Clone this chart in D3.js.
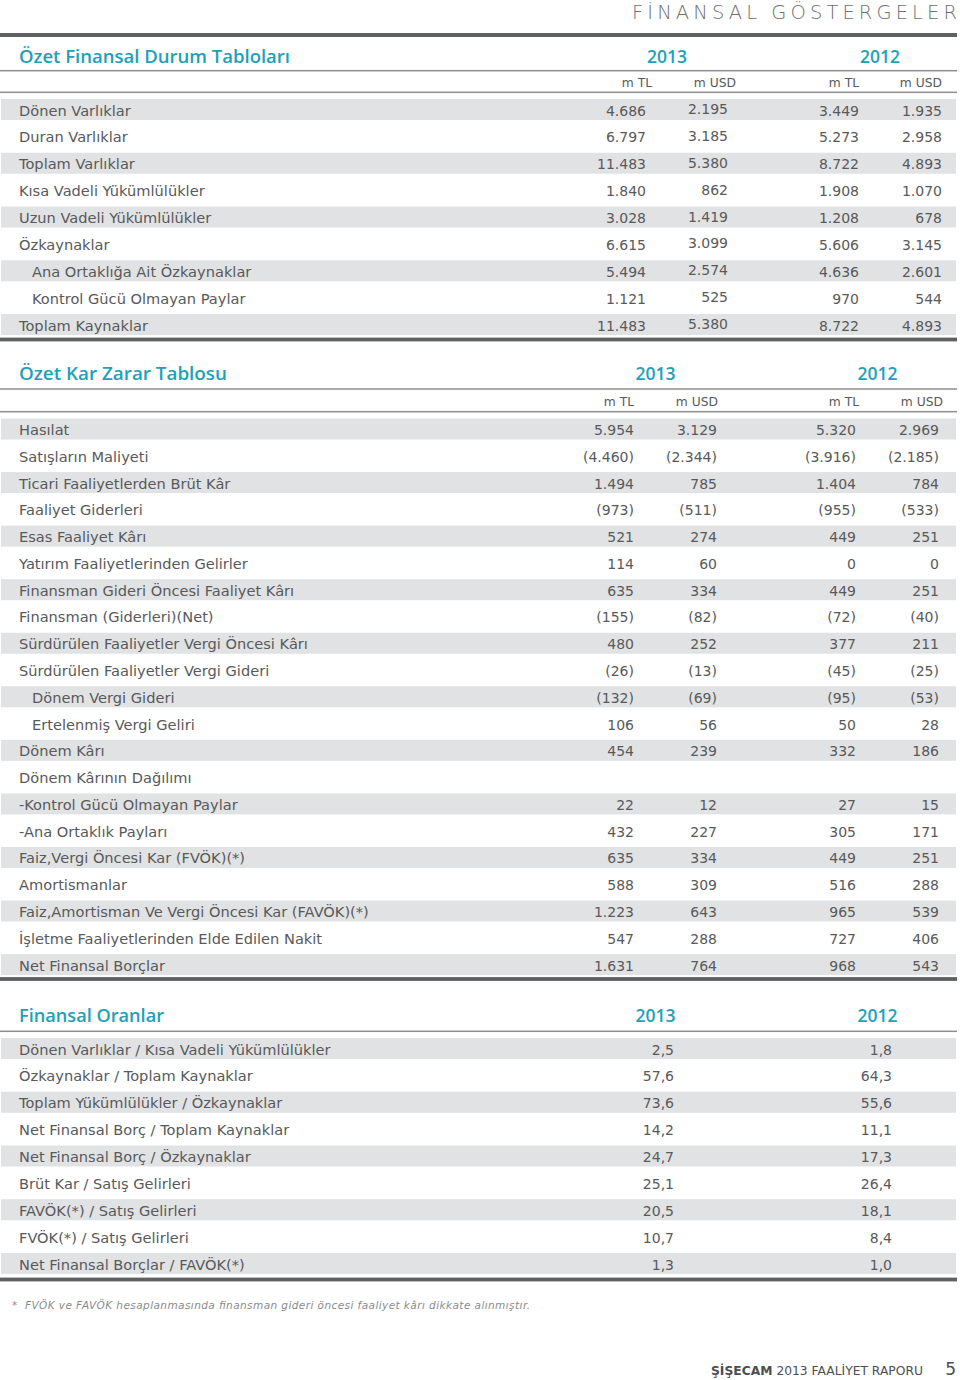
<!DOCTYPE html>
<html>
<head>
<meta charset="utf-8">
<script src="https://cdn.jsdelivr.net/npm/d3@7"></script>
<style>
  html, body { margin: 0; padding: 0; background: #ffffff; }
  svg { display: block; }
</style>
</head>
<body>
<svg id="chart" width="960" height="1380"></svg>
<script>
// ---------------- DATA ----------------
const pageTitle = "FİNANSAL GÖSTERGELER";
const years = ["2013", "2012"];
const unitLabels = ["m TL", "m USD", "m TL", "m USD"];

// Section 1: Özet Finansal Durum Tabloları
const balanceTitle = "Özet Finansal Durum Tabloları";
const balanceLabels = [
  "Dönen Varlıklar", "Duran Varlıklar", "Toplam Varlıklar",
  "Kısa Vadeli Yükümlülükler", "Uzun Vadeli Yükümlülükler", "Özkaynaklar",
  "Ana Ortaklığa Ait Özkaynaklar", "Kontrol Gücü Olmayan Paylar", "Toplam Kaynaklar"
];
const balanceIndent = [0, 0, 0, 0, 0, 0, 1, 1, 0];
const balanceTL2013  = [4686, 6797, 11483, 1840, 3028, 6615, 5494, 1121, 11483];
const balanceUSD2013 = [2195, 3185, 5380, 862, 1419, 3099, 2574, 525, 5380];
const balanceTL2012  = [3449, 5273, 8722, 1908, 1208, 5606, 4636, 970, 8722];
const balanceUSD2012 = [1935, 2958, 4893, 1070, 678, 3145, 2601, 544, 4893];

// Section 2: Özet Kar Zarar Tablosu
const incomeTitle = "Özet Kar Zarar Tablosu";
const incomeLabels = [
  "Hasılat", "Satışların Maliyeti", "Ticari Faaliyetlerden Brüt Kâr",
  "Faaliyet Giderleri", "Esas Faaliyet Kârı", "Yatırım Faaliyetlerinden Gelirler",
  "Finansman Gideri Öncesi Faaliyet Kârı", "Finansman (Giderleri)(Net)",
  "Sürdürülen Faaliyetler Vergi Öncesi Kârı", "Sürdürülen Faaliyetler Vergi Gideri",
  "Dönem Vergi Gideri", "Ertelenmiş Vergi Geliri", "Dönem Kârı",
  "Dönem Kârının Dağılımı", "-Kontrol Gücü Olmayan Paylar", "-Ana Ortaklık Payları",
  "Faiz,Vergi Öncesi Kar (FVÖK)(*)", "Amortismanlar",
  "Faiz,Amortisman Ve Vergi Öncesi Kar (FAVÖK)(*)",
  "İşletme Faaliyetlerinden Elde Edilen Nakit", "Net Finansal Borçlar"
];
const incomeIndent = [0,0,0,0,0,0,0,0,0,0,1,1,0,0,0,0,0,0,0,0,0];
const incomeTL2013  = [5954, -4460, 1494, -973, 521, 114, 635, -155, 480, -26, -132, 106, 454, null, 22, 432, 635, 588, 1223, 547, 1631];
const incomeUSD2013 = [3129, -2344, 785, -511, 274, 60, 334, -82, 252, -13, -69, 56, 239, null, 12, 227, 334, 309, 643, 288, 764];
const incomeTL2012  = [5320, -3916, 1404, -955, 449, 0, 449, -72, 377, -45, -95, 50, 332, null, 27, 305, 449, 516, 965, 727, 968];
const incomeUSD2012 = [2969, -2185, 784, -533, 251, 0, 251, -40, 211, -25, -53, 28, 186, null, 15, 171, 251, 288, 539, 406, 543];

// Section 3: Finansal Oranlar
const ratioTitle = "Finansal Oranlar";
const ratioLabels = [
  "Dönen Varlıklar / Kısa Vadeli Yükümlülükler", "Özkaynaklar / Toplam Kaynaklar",
  "Toplam Yükümlülükler / Özkaynaklar", "Net Finansal Borç / Toplam Kaynaklar",
  "Net Finansal Borç / Özkaynaklar", "Brüt Kar / Satış Gelirleri",
  "FAVÖK(*) / Satış Gelirleri", "FVÖK(*) / Satış Gelirleri",
  "Net Finansal Borçlar / FAVÖK(*)"
];
const ratio2013 = [2.5, 57.6, 73.6, 14.2, 24.7, 25.1, 20.5, 10.7, 1.3];
const ratio2012 = [1.8, 64.3, 55.6, 11.1, 17.3, 26.4, 18.1, 8.4, 1.0];

const footnote = "FVÖK ve FAVÖK hesaplanmasında finansman gideri öncesi faaliyet kârı dikkate alınmıştır.";
const footerBrand = "ŞİŞECAM";
const footerText = " 2013 FAALİYET RAPORU";
const pageNumber = "5";

// ---------------- STYLE ----------------
const FONT = "'DejaVu Sans', sans-serif";
const TITLE_FONT = "'Open Sans', 'DejaVu Sans', sans-serif";
const TEAL = "#1da1b8";
const TEXT = "#58595b";
const SHADE = "#e1e2e3";
const THICK = "#5f6062";
const THIN = "#8e8f91";

const loc = d3.formatLocale({ decimal: ",", thousands: ".", grouping: [3], currency: ["", ""] });
const fInt = loc.format(",.0f");
const fDec = loc.format(",.1f");
const acct = f => v => v == null ? "" : (v < 0 ? "(" + f(-v) + ")" : f(v));

const svg = d3.select("#chart");
svg.append("rect").attr("width", 960).attr("height", 1380).attr("fill", "#fff");

function hline(y, w, color) {
  svg.append("rect").attr("x", 0).attr("y", y - w / 2).attr("width", 957).attr("height", w).attr("fill", color);
}

// Page title
svg.append("text")
  .attr("x", 632).attr("y", 19)
  .attr("font-family", FONT).attr("font-size", 19.5).attr("font-weight", 200)
  .attr("fill", "#6f7072")
  .attr("textLength", 325).attr("lengthAdjust", "spacing")
  .text(pageTitle);
hline(35, 4, THICK);

function drawSection(cfg) {
  const n = cfg.labels.length;
  const pad = (cfg.step - 21) / cfg.step;
  const y = d3.scaleBand()
    .domain(d3.range(n))
    .range([cfg.top - cfg.step * pad / 2, cfg.top - cfg.step * pad / 2 + n * cfg.step])
    .paddingInner(pad).paddingOuter(pad / 2);

  const x = d3.scaleOrdinal().domain(cfg.cols.map(c => c.key)).range(cfg.cols.map(c => c.x));

  // title
  svg.append("text").attr("x", 19).attr("y", cfg.titleY)
    .attr("font-family", TITLE_FONT).attr("font-size", 18.5).attr("font-weight", 600)
    .attr("fill", TEAL).attr("textLength", cfg.titleLen).attr("lengthAdjust", "spacingAndGlyphs")
    .text(cfg.title);
  svg.selectAll(null).data(years).join("text")
    .attr("x", (d, i) => cfg.yearX[i]).attr("y", cfg.titleY)
    .attr("text-anchor", "middle")
    .attr("font-family", TITLE_FONT).attr("font-size", 18.5).attr("font-weight", 600)
    .attr("fill", TEAL).attr("textLength", 40).attr("lengthAdjust", "spacingAndGlyphs")
    .text(d => d);
  cfg.lines.forEach(l => hline(l, 1.5, THIN));

  if (cfg.unitX) {
    svg.selectAll(null).data(unitLabels).join("text")
      .attr("x", (d, i) => cfg.unitX[i]).attr("y", cfg.unitY)
      .attr("text-anchor", "end")
      .attr("font-family", FONT).attr("font-size", 12.3).attr("fill", TEXT)
      .text(d => d);
  }

  const rows = svg.append("g");
  rows.selectAll("rect").data(d3.range(n).filter(i => i % 2 === 0)).join("rect")
    .attr("x", 1).attr("width", 955)
    .attr("y", i => y(i)).attr("height", y.bandwidth())
    .attr("fill", SHADE);

  rows.selectAll("text.lbl").data(cfg.labels).join("text")
    .attr("class", "lbl")
    .attr("x", (d, i) => cfg.indent && cfg.indent[i] ? 32 : 19)
    .attr("y", (d, i) => y(i) + 16.5)
    .attr("font-family", FONT).attr("font-size", 14.6).attr("fill", TEXT)
    .text(d => d);

  cfg.cols.forEach(c => {
    rows.selectAll(null).data(c.values).join("text")
      .attr("x", x(c.key))
      .attr("y", (d, i) => y(i) + 16.5 + (c.dy || 0))
      .attr("text-anchor", "end")
      .attr("font-family", FONT).attr("font-size", 14).attr("fill", TEXT)
      .text(d => c.fmt(d));
  });

  hline(cfg.bottomLine, 3.8, THICK);
}

drawSection({
  title: balanceTitle, titleY: 62.5, titleLen: 271,
  yearX: [667, 880], lines: [70.7, 92.3],
  unitX: [652, 736, 859, 942], unitY: 87.3,
  labels: balanceLabels, indent: balanceIndent,
  top: 99, step: 26.875,
  cols: [
    { key: "tl13", values: balanceTL2013, x: 646, fmt: acct(fInt) },
    { key: "usd13", values: balanceUSD2013, x: 728, fmt: acct(fInt), dy: -1.5 },
    { key: "tl12", values: balanceTL2012, x: 859, fmt: acct(fInt) },
    { key: "usd12", values: balanceUSD2012, x: 942, fmt: acct(fInt) }
  ],
  bottomLine: 339.5
});

drawSection({
  title: incomeTitle, titleY: 380, titleLen: 208,
  yearX: [655.5, 877.5], lines: [389, 411.7],
  unitX: [634, 718, 859, 943], unitY: 406,
  labels: incomeLabels, indent: incomeIndent,
  top: 418.5, step: 26.78,
  cols: [
    { key: "tl13", values: incomeTL2013, x: 634, fmt: acct(fInt) },
    { key: "usd13", values: incomeUSD2013, x: 717, fmt: acct(fInt) },
    { key: "tl12", values: incomeTL2012, x: 856, fmt: acct(fInt) },
    { key: "usd12", values: incomeUSD2012, x: 939, fmt: acct(fInt) }
  ],
  bottomLine: 979
});

drawSection({
  title: ratioTitle, titleY: 1022, titleLen: 145,
  yearX: [655.5, 877.5], lines: [1031.3],
  labels: ratioLabels,
  top: 1038, step: 26.875,
  cols: [
    { key: "r13", values: ratio2013, x: 674, fmt: acct(fDec) },
    { key: "r12", values: ratio2012, x: 892, fmt: acct(fDec) }
  ],
  bottomLine: 1279.5
});

// footnote
svg.append("text").attr("x", 12).attr("y", 1309)
  .attr("font-family", FONT).attr("font-size", 10.5).attr("fill", "#8a8b8d").text("*");
svg.append("text").attr("x", 25).attr("y", 1309)
  .attr("font-family", FONT).attr("font-size", 10.5).attr("font-style", "italic").attr("fill", "#8a8b8d")
  .attr("textLength", 505).attr("lengthAdjust", "spacing")
  .text(footnote);

// footer
const ft = svg.append("text").attr("x", 711).attr("y", 1375)
  .attr("font-family", FONT).attr("font-size", 12.3).attr("fill", "#4d4e50");
ft.append("tspan").attr("font-weight", "bold").text(footerBrand);
ft.append("tspan").text(footerText);
svg.append("text").attr("x", 956).attr("y", 1375).attr("text-anchor", "end")
  .attr("font-family", FONT).attr("font-size", 17).attr("fill", "#4d4e50").text(pageNumber);
</script>
</body>
</html>
